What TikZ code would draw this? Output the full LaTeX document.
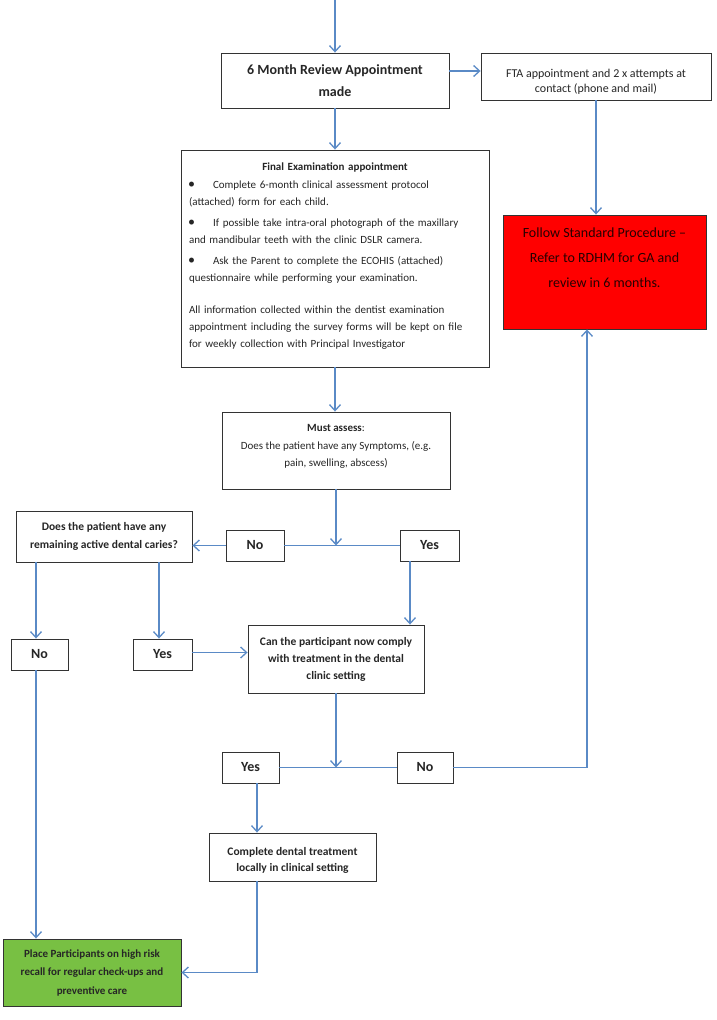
\documentclass[tikz,border=0pt]{standalone}
\usepackage{fontspec}
\setmainfont{Carlito}
\usetikzlibrary{arrows.meta}
\definecolor{lnblue}{HTML}{5A8AC6}
\definecolor{txt}{HTML}{262626}
\definecolor{redfill}{HTML}{FF0000}
\definecolor{greenfill}{HTML}{78C043}
\newcommand\bitem[1]{\par\noindent\hangindent=24pt\hangafter=1\makebox[24pt][l]{\hspace{-1pt}{\fontsize{14}{17}\selectfont\textbullet}}#1\par}
% fixed-size text block: width, height, first baseline from top, text
\newcommand\tb[4]{\parbox[c][#2][t]{#1}{\centering\rule{0pt}{#3}#4\par}}
\tikzset{
  box/.style={draw=black!80, line width=0.9pt, fill=white, align=center, inner sep=0pt, text=txt},
  conn/.style={draw=lnblue, line width=1.4pt},
  arr/.style={conn, -{Straight Barb[length=6pt,width=11pt,line width=1.3pt]}},
  yn/.style={box, minimum height=31pt, font=\fontsize{14}{16}\selectfont\bfseries},
}
\begin{document}
\begin{tikzpicture}[x=1pt,y=-1pt]
\fill[white] (0,0) rectangle (717,1020);
\useasboundingbox (0,0) rectangle (717,1020);

\node[box, minimum width=228pt, minimum height=55pt, font=\fontsize{14}{22}\selectfont\bfseries] (review) at (335,80.5) {6 Month Review Appointment\\made};
\node[box, font=\fontsize{12}{15}\selectfont] (fta) at (596,76.5) {\tb{230pt}{47pt}{24.5pt}{FTA appointment and 2 x attempts at\\contact (phone and mail)}};
\node[box, fill=redfill, text=black!85!red, font=\fontsize{14}{25}\selectfont] (red) at (604.5,272) {\tb{203pt}{114pt}{22.5pt}{Follow Standard Procedure --\\Refer to RDHM for GA and\\review in 6 months.}};
\node[box, minimum width=308pt, minimum height=217pt, text width=292pt, align=left, font=\fontsize{11}{17}\selectfont] (exam) at (335,258.5) {%
{\centering\bfseries Final Examination appointment\par}\vspace{1pt}
\bitem{Complete 6-month clinical assessment protocol\\(attached) form for each child.}\vspace{4pt}
\bitem{If possible take intra-oral photograph of the maxillary\\and mandibular teeth with the clinic DSLR camera.}\vspace{4pt}
\bitem{Ask the Parent to complete the ECOHIS (attached)\\questionnaire while performing your examination.}\vspace{15pt}
\noindent All information collected within the dentist examination\\appointment including the survey forms will be kept on file\\for weekly collection with Principal Investigator\par\vspace{4pt}};
\node[box, font=\fontsize{11}{17.5}\selectfont] (assess) at (336,450.5) {\tb{228pt}{77pt}{19.5pt}{\textbf{Must assess}:\\Does the patient have any Symptoms, (e.g.\\pain, swelling, abscess)}};
\node[yn, minimum width=58pt] (noA) at (255,545.5) {No};
\node[yn, minimum width=59pt] (yesA) at (429.5,545.5) {Yes};
\node[box, minimum width=176pt, minimum height=51pt, font=\fontsize{11.5}{18}\selectfont\bfseries] (caries) at (104,536.5) {Does the patient have any\\remaining active dental caries?};
\node[yn, minimum width=57pt] (noB) at (39.5,654.5) {No};
\node[yn, minimum width=59pt] (yesB) at (162.5,654.5) {Yes};
\node[box, minimum width=176pt, minimum height=68pt, font=\fontsize{11.5}{17}\selectfont\bfseries] (comply) at (336,659) {Can the participant now comply\\with treatment in the dental\\clinic setting};
\node[yn, minimum width=57pt] (yesC) at (250.5,767.5) {Yes};
\node[yn, minimum width=56pt] (noC) at (425,767.5) {No};
\node[box, font=\fontsize{11.5}{16}\selectfont\bfseries] (complete) at (292.5,857) {\tb{167pt}{48pt}{22pt}{Complete dental treatment\\locally in clinical setting}};
\node[box, fill=greenfill, minimum width=178pt, minimum height=67pt, font=\fontsize{11}{18.5}\selectfont\bfseries] (green) at (92,972.5) {Place Participants on high risk\\recall for regular check-ups and\\preventive care};

\coordinate (top) at (335,0);
\draw[arr] (top) -- (review.north);
\draw[arr] ([yshift=9.5pt]review.east) coordinate (ra) -- (ra -| fta.west);
\draw[arr] (fta.south) -- (fta.south |- red.north);
\draw[arr] (review.south) -- (exam.north);
\draw[arr] (exam.south) -- (exam.south |- assess.north);
\draw[conn] (noA.east) -- (yesA.west);
\draw[arr] (assess.south) -- (assess.south |- noA.east);
\draw[arr] (noA.west) -- (noA.west -| caries.east);
\path ([xshift=-3.5pt]noB.north) coordinate (nBt);
\path ([xshift=-3.5pt]noB.south) coordinate (nBb);
\path ([xshift=-3.5pt]yesB.north) coordinate (yBt);
\draw[arr] (nBt |- caries.south) -- (nBt);
\draw[arr] (yBt |- caries.south) -- (yBt);
\path ([xshift=-19.5pt]yesA.south) coordinate (yAb);
\draw[arr] (yAb) -- (yAb |- comply.north);
\draw[arr] ([yshift=2pt]yesB.east) coordinate (yBe) -- (yBe -| comply.west);
\draw[arr] (comply.south) -- (comply.south |- yesC.east);
\draw[conn] (yesC.east) -- (noC.west);
\path ([xshift=-17.5pt]red.south) coordinate (rB);
\draw[arr] (noC.east) -| (rB);
\path ([xshift=6.5pt]yesC.south) coordinate (yCb);
\draw[arr] (yCb) -- (yCb |- complete.north);
\path ([xshift=-35.5pt]complete.south) coordinate (cB);
\draw[arr] (cB) |- (green.east);
\draw[arr] (nBb) -- (nBb |- green.north);
\end{tikzpicture}
\end{document}
